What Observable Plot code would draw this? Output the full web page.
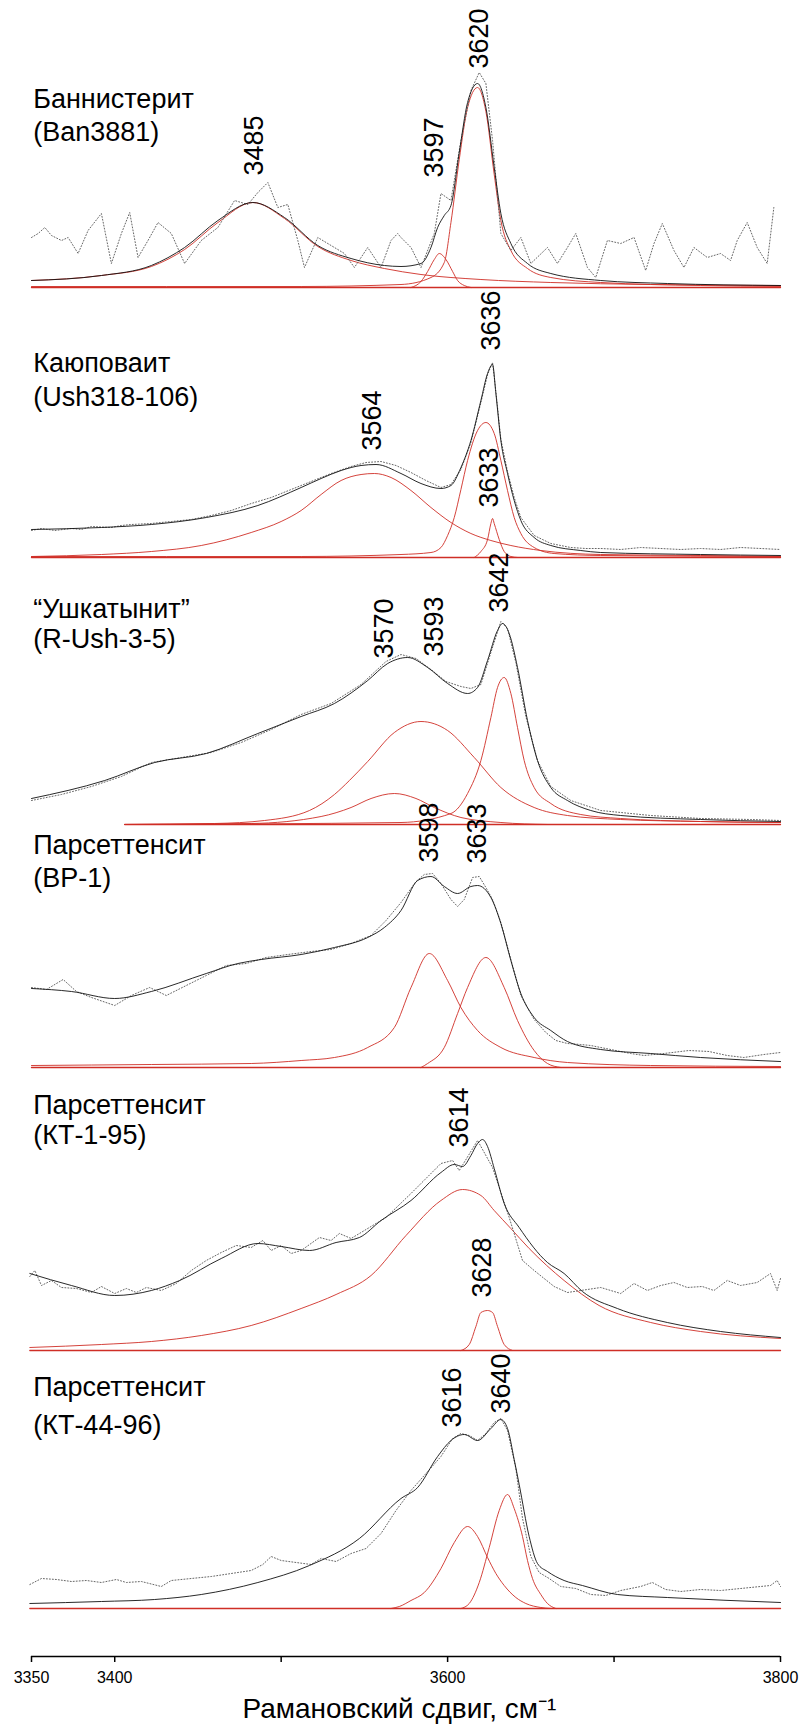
<!DOCTYPE html>
<html><head><meta charset="utf-8">
<script src="https://cdn.jsdelivr.net/npm/d3@7"></script>
<script src="https://cdn.jsdelivr.net/npm/@observablehq/plot@0.6"></script>
<style>html,body{margin:0;padding:0;background:#fff;}</style>
</head><body><div id="chart"></div>
<script>
// ---------- axis ----------
const xTicks = [3350, 3400, 3500, 3600, 3700, 3800];
const xTickLabels = [3350, 3400, 3600, 3800];
const xTitle = "Рамановский сдвиг, см\u207B\u00B9";

// ---------- sample names ----------
const sampleNames = [
  ["Баннистерит", "(Ban3881)"],
  ["Каюповаит", "(Ush318-106)"],
  ["\u201CУшкатынит\u201D", "(R-Ush-3-5)"],
  ["Парсеттенсит", "(BP-1)"],
  ["Парсеттенсит", "(КТ-1-95)"],
  ["Парсеттенсит", "(КТ-44-96)"]
];

// ---------- peak labels: text, position (cm-1), label height ----------
const peakText = [["3485","3597","3620"],["3564","3636","3633"],["3570","3593","3642"],["3598","3633"],["3614","3628"],["3616","3640"]];
const peakPos  = [[3484,3592,3619],[3555,3626,3625],[3562,3592,3631],[3589,3618],[3607,3621],[3603,3632]];
const peakLabH = [[112,110,219],[107,207,50],[166,168,212],[205,204],[203,53],[181,195]];

// ---------- Ban3881 ----------
const banExp = [[3350,50],[3354,54],[3358,60],[3362,52],[3368,47],[3372,50],[3378,34],[3384,57],[3392,74],[3398,24],[3404,54],[3409,75],[3414,30],[3420,47],[3426,65],[3434,54],[3442,24],[3452,47],[3462,60],[3472,87],[3480,83],[3486,95],[3492,105],[3498,80],[3504,83],[3510,47],[3514,20],[3522,50],[3532,40],[3538,34],[3544,20],[3552,40],[3560,20],[3566,47],[3570,54],[3572,50],[3578,40],[3584,20],[3592,54],[3596,94],[3602,87],[3608,147],[3614,197],[3619,215],[3623,204],[3627,147],[3632,54],[3638,37],[3644,50],[3650,24],[3660,40],[3666,24],[3672,40],[3677,54],[3684,20],[3689,10],[3696,47],[3704,44],[3712,50],[3719,17],[3724,44],[3729,64],[3736,37],[3742,20],[3748,40],[3756,30],[3764,34],[3770,27],[3774,47],[3780,65],[3786,40],[3792,24],[3796,80]];
const banFit = [[3350,7],[3392,12],[3422,22],[3442,40],[3462,67],[3483,85],[3502,70],[3522,42],[3542,29],[3562,22],[3572,21],[3584,24],[3590,40],[3594,60],[3598,72],[3602,82],[3607,135],[3612,185],[3618,204],[3623,180],[3628,120],[3632,74],[3638,44],[3648,24],[3662,14],[3692,7],[3732,4],[3800,2]];
const banC1 = [[3350,7],[3392,12],[3422,21],[3442,38],[3462,65],[3483,85],[3502,69],[3522,41],[3542,27],[3562,19],[3584,13],[3620,8],[3662,5],[3722,3],[3800,2]];
const banC2 = [[3578,0],[3584,6],[3588,16],[3592,28],[3595,34],[3599,28],[3603,16],[3606,7],[3610,2],[3614,0]];
const banC3 = [[3350,1],[3512,1],[3572,3],[3590,10],[3598,25],[3602,65],[3607,128],[3612,180],[3618,200],[3623,176],[3628,113],[3632,67],[3638,37],[3648,19],[3662,10],[3692,5],[3752,2],[3800,1]];

// ---------- Ush318-106 ----------
const ushExp = [[3350,27],[3356,29],[3364,27],[3374,29],[3380,28],[3386,31],[3398,30],[3404,32],[3410,33],[3422,34],[3434,36],[3446,38],[3458,42],[3470,47],[3482,54],[3494,60],[3506,68],[3518,76],[3530,84],[3542,91],[3551,95],[3560,96],[3569,92],[3578,85],[3587,77],[3596,70],[3602,73],[3608,88],[3614,115],[3620,155],[3624,183],[3627,195],[3629,166],[3632,118],[3636,86],[3640,60],[3644,40],[3652,22],[3662,14],[3674,10],[3683,9],[3692,9],[3704,8],[3716,10],[3728,9],[3740,8],[3752,9],[3764,8],[3776,10],[3800,8]];
const ushFit = [[3350,28],[3392,30],[3422,33],[3455,40],[3486,52],[3512,70],[3524,79],[3536,87],[3548,92],[3557,93],[3572,84],[3584,74],[3596,69],[3602,72],[3608,90],[3614,117],[3620,157],[3624,184],[3627,193],[3629,164],[3632,117],[3636,84],[3640,57],[3644,37],[3652,20],[3662,12],[3680,7],[3692,5],[3752,3],[3800,2]];
const ushC1 = [[3350,1],[3392,3],[3422,6],[3452,12],[3482,25],[3500,36],[3512,47],[3524,63],[3536,77],[3548,83],[3556,84],[3566,80],[3578,67],[3590,50],[3602,35],[3614,24],[3626,17],[3638,12],[3656,7],[3692,3],[3752,2],[3800,1]];
const ushC2 = [[3350,1],[3512,1],[3572,3],[3590,5],[3596,10],[3600,22],[3604,40],[3608,68],[3612,97],[3618,127],[3623,135],[3628,124],[3632,97],[3636,67],[3640,40],[3644,24],[3652,10],[3664,4],[3692,2],[3800,1]];
const ushC3 = [[3616,0],[3620,6],[3624,18],[3626,34],[3627,39],[3628,34],[3631,18],[3634,6],[3638,1],[3642,0]];

// ---------- R-Ush-3-5 ----------
const rushExp = [[3350,24],[3368,30],[3386,38],[3404,48],[3422,62],[3440,67],[3458,72],[3476,82],[3494,95],[3512,110],[3530,121],[3548,140],[3563,163],[3572,170],[3581,166],[3590,155],[3599,143],[3608,138],[3614,136],[3620,140],[3626,172],[3632,203],[3636,196],[3641,162],[3647,108],[3654,64],[3662,38],[3674,24],[3692,14],[3722,9],[3752,6],[3782,5],[3800,4]];
const rushFit = [[3350,26],[3394,44],[3424,62],[3455,71],[3486,91],[3512,108],[3532,121],[3552,144],[3564,161],[3576,167],[3588,157],[3600,141],[3612,131],[3618,137],[3624,164],[3630,194],[3633,201],[3637,191],[3642,157],[3648,104],[3654,64],[3662,37],[3672,24],[3686,14],[3704,9],[3752,5],[3800,3]];
const rushC1 = [[3406,0],[3572,2],[3602,11],[3612,31],[3620,64],[3626,107],[3630,137],[3634,147],[3638,131],[3642,97],[3646,64],[3652,37],[3662,21],[3680,10],[3704,6],[3752,3],[3800,2]];
const rushC2 = [[3406,0],[3460,1],[3490,4],[3517,14],[3532,30],[3541,44],[3552,63],[3568,92],[3584,103],[3600,94],[3616,67],[3632,37],[3652,17],[3672,9],[3704,5],[3752,3],[3800,2]];
const rushC3 = [[3406,0],[3482,1],[3524,8],[3542,17],[3554,26],[3568,31],[3581,26],[3592,17],[3608,7],[3632,2],[3660,0]];

// ---------- BP-1 ----------
const bp1Exp = [[3350,80],[3359,78],[3369,88],[3377,76],[3386,70],[3400,62],[3410,72],[3421,80],[3431,72],[3443,82],[3455,92],[3467,102],[3479,104],[3491,110],[3504,113],[3518,116],[3530,118],[3542,124],[3554,132],[3563,147],[3572,165],[3581,186],[3586,193],[3591,194],[3596,184],[3602,168],[3606,161],[3610,168],[3615,190],[3619,191],[3623,180],[3627,168],[3632,145],[3638,108],[3644,72],[3652,48],[3659,35],[3665,27],[3672,24],[3680,23],[3686,22],[3698,18],[3710,14],[3718,12],[3730,14],[3745,17],[3757,16],[3768,12],[3778,10],[3790,13],[3800,15]];
const bp1Fit = [[3350,79],[3374,76],[3400,69],[3422,76],[3455,94],[3474,104],[3488,108],[3512,113],[3532,120],[3552,130],[3562,140],[3572,157],[3582,187],[3590,191],[3598,181],[3606,174],[3614,181],[3618,182],[3626,170],[3632,144],[3638,107],[3644,74],[3652,50],[3662,37],[3672,26],[3692,18],[3722,14],[3752,10],[3800,6]];
const bp1C1 = [[3350,2],[3422,3],[3482,4],[3512,7],[3532,10],[3552,20],[3568,40],[3578,80],[3589,114],[3600,87],[3608,60],[3618,37],[3632,20],[3652,10],[3672,5],[3722,2],[3800,1]];
const bp1C2 = [[3584,0],[3588,4],[3598,20],[3606,54],[3612,80],[3623,110],[3634,80],[3642,47],[3652,17],[3660,4],[3668,0]];

// ---------- KT-1-95 ----------
const kt1Exp = [[3349,74],[3352,80],[3356,65],[3362,70],[3368,63],[3377,62],[3386,58],[3392,64],[3400,57],[3407,62],[3413,58],[3419,63],[3428,60],[3437,67],[3446,80],[3455,90],[3464,98],[3473,105],[3482,103],[3489,110],[3494,100],[3500,105],[3506,97],[3512,100],[3523,113],[3530,110],[3535,117],[3542,112],[3563,133],[3578,157],[3596,187],[3603,190],[3607,180],[3618,210],[3627,183],[3637,133],[3645,90],[3652,80],[3664,64],[3672,58],[3680,60],[3692,63],[3704,57],[3712,67],[3720,60],[3728,65],[3736,68],[3744,63],[3753,64],[3760,60],[3768,70],[3776,65],[3786,68],[3794,77],[3798,60],[3800,72]];
const kt1Fit = [[3349,77],[3374,65],[3400,55],[3422,60],[3439,70],[3464,92],[3486,107],[3500,104],[3517,100],[3533,108],[3547,113],[3560,130],[3578,150],[3596,178],[3604,186],[3609,184],[3614,195],[3618,207],[3621,211],[3624,204],[3628,182],[3634,147],[3643,123],[3660,88],[3670,77],[3681,59],[3702,42],[3732,28],[3764,19],[3800,13]];
const kt1C1 = [[3349,3],[3392,6],[3422,9],[3452,15],[3482,25],[3512,42],[3533,56],[3554,75],[3575,115],[3596,150],[3609,161],[3620,155],[3628,140],[3638,122],[3649,102],[3670,70],[3691,45],[3722,28],[3752,19],[3800,12]];
const kt1C2 = [[3608,0],[3613,6],[3617,24],[3620,38],[3624,40],[3627,38],[3630,24],[3634,6],[3639,0]];

// ---------- KT-44-96 ----------
const kt44Exp = [[3349,24],[3356,30],[3365,29],[3374,27],[3383,28],[3392,26],[3401,29],[3407,26],[3416,27],[3428,22],[3434,28],[3446,30],[3458,32],[3470,35],[3482,38],[3489,44],[3494,52],[3500,48],[3509,46],[3518,44],[3524,50],[3533,47],[3542,55],[3551,60],[3560,75],[3569,98],[3578,118],[3587,135],[3596,152],[3603,170],[3608,175],[3613,173],[3618,168],[3623,175],[3628,186],[3632,190],[3636,178],[3641,140],[3645,90],[3650,52],[3655,36],[3661,30],[3668,22],[3677,20],[3686,14],[3695,13],[3704,18],[3716,22],[3723,26],[3731,19],[3740,17],[3752,19],[3764,18],[3776,20],[3788,22],[3794,23],[3798,28],[3800,22]];
const kt44Fit = [[3349,5],[3392,7],[3424,9],[3452,14],[3486,26],[3517,43],[3547,70],[3572,110],[3582,121],[3594,152],[3602,168],[3610,174],[3618,168],[3626,180],[3632,189],[3636,180],[3640,149],[3643,124],[3649,72],[3654,45],[3660,37],[3670,28],[3681,23],[3702,14],[3732,11],[3800,6]];
const kt44C1 = [[3566,0],[3571,2],[3578,8],[3586,16],[3596,40],[3604,66],[3612,82],[3618,72],[3624,51],[3629,35],[3634,23],[3641,11],[3647,5],[3656,1],[3662,0]];
const kt44C2 = [[3608,0],[3613,5],[3619,26],[3625,61],[3631,98],[3636,114],[3640,100],[3645,72],[3648,48],[3651,30],[3656,14],[3660,5],[3665,0]];

const baselineStart = [3350, 3350, 3406, 3350, 3349, 3349];

const panels = [
  {exp: banExp,  fit: banFit,  comps: [banC1, banC2, banC3]},
  {exp: ushExp,  fit: ushFit,  comps: [ushC1, ushC2, ushC3]},
  {exp: rushExp, fit: rushFit, comps: [rushC1, rushC2, rushC3]},
  {exp: bp1Exp,  fit: bp1Fit,  comps: [bp1C1, bp1C2]},
  {exp: kt1Exp,  fit: kt1Fit,  comps: [kt1C1, kt1C2]},
  {exp: kt44Exp, fit: kt44Fit, comps: [kt44C1, kt44C2]}
];

// ---------- layout ----------
const W = 800, H = 1726, axisPx = 1656;
const panelBasePx = [287, 557, 824, 1067, 1350, 1608];
const offset = panelBasePx.map(p => axisPx - p);
const nameLineH = [[180,147],[186,152],[207,177],[214,181],[237,207],[213,175]];

const expRows = [], fitRows = [], compRows = [], baseRows = [], nameRows = [], peakRows = [];
panels.forEach((p, i) => {
  const o = offset[i];
  p.exp.forEach(([x, h]) => expRows.push({x, y: h + o, s: "e" + i}));
  p.fit.forEach(([x, h]) => fitRows.push({x, y: h + o, s: "f" + i}));
  p.comps.forEach((c, j) => c.forEach(([x, h]) => compRows.push({x, y: h + o, s: "c" + i + "_" + j})));
  baseRows.push({x: baselineStart[i], y: o, s: "b" + i}, {x: 3800, y: o, s: "b" + i});
  sampleNames[i].forEach((t, k) => nameRows.push({x: 3351, y: nameLineH[i][k] + o, t}));
  peakText[i].forEach((t, k) => peakRows.push({x: peakPos[i][k], y: peakLabH[i][k] + o, t}));
});

const red = "#cf2e26";
const chart = Plot.plot({
  width: W, height: H,
  marginLeft: 31, marginRight: 20, marginTop: 0, marginBottom: H - axisPx,
  style: {fontFamily: "'Liberation Sans', Arial, sans-serif", background: "#fff", color: "#000"},
  x: {domain: [3350, 3800]},
  y: {domain: [0, axisPx], axis: null},
  marks: [
    Plot.line(baseRows, {x: "x", y: "y", z: "s", stroke: red, strokeWidth: 1.3}),
    Plot.line(compRows, {x: "x", y: "y", z: "s", stroke: red, strokeWidth: 0.9, curve: "monotone-x"}),
    Plot.line(expRows, {x: "x", y: "y", z: "s", stroke: "#666", strokeWidth: 1, strokeDasharray: "1,2"}),
    Plot.line(fitRows, {x: "x", y: "y", z: "s", stroke: "#111", strokeWidth: 0.9, curve: "monotone-x"}),
    Plot.text(nameRows, {x: "x", y: "y", text: "t", textAnchor: "start", lineAnchor: "bottom", fontSize: 27, fill: "#000"}),
    Plot.text(peakRows, {x: "x", y: "y", text: "t", rotate: -90, textAnchor: "start", lineAnchor: "middle", fontSize: 27, fill: "#000"}),
    Plot.ruleY([0], {stroke: "#000", strokeWidth: 1.5}),
    Plot.axisX({ticks: xTicks, tickFormat: d => xTickLabels.includes(d) ? String(d) : "", tickSize: 6, tickPadding: 9, fontSize: 16, strokeWidth: 1.5, label: null}),
    Plot.text([{x: 3571, t: xTitle}], {x: "x", y: () => 0, text: "t", dy: 61, lineAnchor: "bottom", textAnchor: "middle", fontSize: 28, fill: "#000"})
  ]
});
document.getElementById("chart").appendChild(chart);
</script></body></html>
